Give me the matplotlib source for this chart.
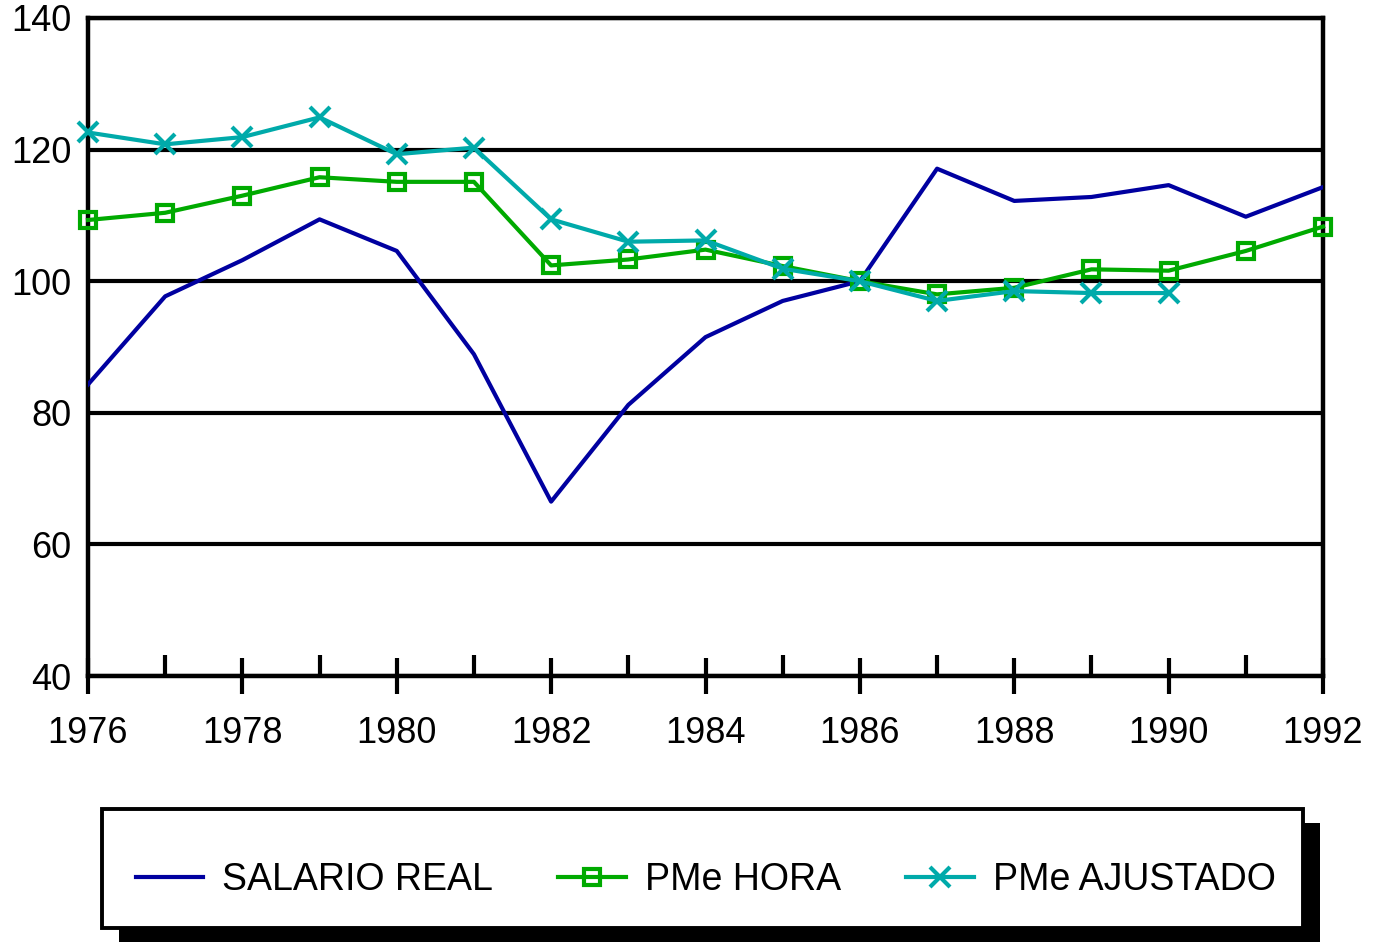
import matplotlib.pyplot as plt
from matplotlib.patches import Rectangle

plt.rcParams['font.family'] = ['Liberation Sans', 'DejaVu Sans']

# datos
years = list(range(1976, 1993))
salario_real = [84.3, 97.7, 103.2, 109.4, 104.6, 88.9, 66.5, 81.2, 91.5,
                97.0, 100.0, 117.1, 112.2, 112.8, 114.6, 109.8, 114.3]
pme_hora = [109.3, 110.4, 113.0, 115.8, 115.1, 115.1, 102.4, 103.3, 104.8,
            102.3, 100.0, 98.0, 99.0, 101.8, 101.6, 104.6, 108.3]
years_ajustado = list(range(1976, 1991))
pme_ajustado = [122.6, 120.8, 121.9, 124.9, 119.3, 120.3, 109.4, 106.0, 106.2,
                101.9, 100.0, 97.0, 98.5, 98.2, 98.2]

labels = ['SALARIO REAL', 'PMe HORA', 'PMe AJUSTADO']
colores = ['#0000a0', '#00aa00', '#00aaaa']

fig = plt.figure(figsize=(13.84, 9.42), dpi=100)
ax = fig.add_axes([88 / 1384, 1 - 676 / 942, (1323 - 88) / 1384, (676 - 18) / 942])

l1, = ax.plot(years, salario_real, color=colores[0], lw=3.0, zorder=3)
l2, = ax.plot(years, pme_hora, color=colores[1], lw=3.0, marker='s', ms=12,
              mfc='none', mew=3.0, clip_on=False, zorder=4)
l3, = ax.plot(years_ajustado, pme_ajustado, color=colores[2], lw=3.0, marker='x',
              ms=15, mew=3.0, clip_on=False, zorder=5)

ax.set_xlim(1976, 1992)
ax.set_ylim(40, 140)
ax.set_yticks(range(40, 141, 20))
ax.set_xticks(range(1976, 1993, 2))
ax.set_xticks(range(1977, 1992, 2), minor=True)

ax.yaxis.grid(True, color='black', lw=3.0)
ax.set_axisbelow(True)
for s in ax.spines.values():
    s.set_linewidth(3.2)

ax.tick_params(axis='x', which='major', direction='inout', length=26, width=3.0,
               pad=16, labelsize=26)
ax.tick_params(axis='x', which='minor', direction='in', length=15, width=3.0)
ax.tick_params(axis='y', length=0, pad=12, labelsize=26)

# cuadro de leyenda con sombra
x0, x1 = 102 / 1384, 1303 / 1384
y0, y1 = 1 - 928 / 942, 1 - 809 / 942
dx, dy = 17 / 1384, 14 / 942
fig.add_artist(Rectangle((x0 + dx, y0 - dy), x1 - x0, y1 - y0, transform=fig.transFigure,
                         facecolor='black', edgecolor='none', zorder=1))
fig.add_artist(Rectangle((x0, y0), x1 - x0, y1 - y0, transform=fig.transFigure,
                         facecolor='white', edgecolor='black', lw=2.8, zorder=2))
fig.legend([l1, l2, l3], labels, loc='center',
           bbox_to_anchor=((x0 + x1) / 2 + 3 / 1384, (y0 + y1) / 2 - 12 / 942),
           ncol=3, frameon=False, fontsize=27, numpoints=1, handlelength=1.8,
           handletextpad=0.5, columnspacing=1.75)

fig.savefig('out.png', dpi=100)
